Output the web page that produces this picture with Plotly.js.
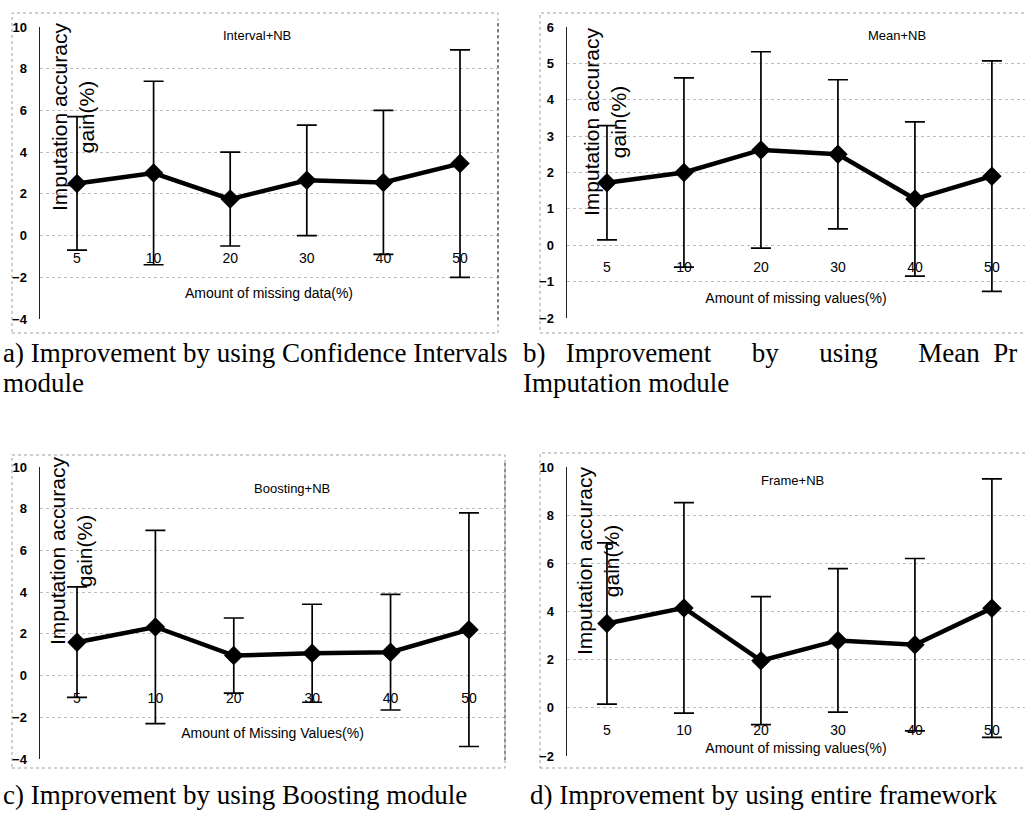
<!DOCTYPE html>
<html><head><meta charset="utf-8">
<script src="https://cdn.plot.ly/plotly-3.0.1.min.js"></script>
<style>html,body{margin:0;padding:0;background:#fff}</style>
</head><body>
<div id="chart" style="width:1025px;height:813px"></div>
<script>
// ---------------- data ----------------
const categories = ['5', '10', '20', '30', '40', '50'];

const intervalGain = [2.5, 3.0, 1.75, 2.65, 2.55, 3.45];
const intervalErr  = [3.2, 4.4, 2.25, 2.65, 3.45, 5.45];

const meanGain = [1.72, 2.0, 2.62, 2.5, 1.27, 1.9];
const meanErr  = [1.57, 2.6, 2.7, 2.05, 2.12, 3.17];

const boostingGain = [1.6, 2.33, 0.96, 1.07, 1.12, 2.2];
const boostingErr  = [2.65, 4.63, 1.8, 2.35, 2.77, 5.6];

const frameGain = [3.5, 4.15, 1.96, 2.8, 2.62, 4.14];
const frameErr  = [3.35, 4.37, 2.66, 2.98, 3.58, 5.37];

const yTicksA = [-4, -2, 0, 2, 4, 6, 8, 10];
const yTicksB = [-2, -1, 0, 1, 2, 3, 4, 5, 6];
const yTicksC = [-4, -2, 0, 2, 4, 6, 8, 10];
const yTicksD = [-2, 0, 2, 4, 6, 8, 10];

const chartTitles = ['Interval+NB', 'Mean+NB', 'Boosting+NB', 'Frame+NB'];
const xTitles = ['Amount of missing data(%)', 'Amount of missing values(%)', 'Amount of Missing Values(%)', 'Amount of missing values(%)'];
const yTitle = 'Imputation accuracy<br>gain(%)';
const nb = k => '\u00a0'.repeat(k);
const captions = [
  ['a) Improvement by using Confidence Intervals', 'module'],
  ['b)' + nb(3) + 'Improvement' + nb(6) + 'by' + nb(6) + 'using' + nb(6) + 'Mean' + nb(2) + 'Pr', 'Imputation module'],
  ['c) Improvement by using Boosting module'],
  ['d) Improvement by using entire framework']
];

// ---------------- geometry (pixels) ----------------
const W = 1025, H = 813;
const fx = p => p / W;
const fy = p => 1 - p / H;

const panels = [
  {gain: intervalGain, err: intervalErr, ticks: yTicksA, xPx: [40, 498], xRange: [-0.483, 5.496], yPx: [319, 27], yRange: [-4, 10],
   title: [257, 36], yTitle: [73, 117], xStand: 23, border: [12, 13, 498, 333]},
  {gain: meanGain, err: meanErr, ticks: yTicksB, xPx: [567, 1025], xRange: [-0.519, 5.43], yPx: [318, 27], yRange: [-2, 6],
   title: [897, 36], yTitle: [605, 122], xStand: 18, border: [540, 13, 1030, 333]},
  {gain: boostingGain, err: boostingErr, ticks: yTicksC, xPx: [40, 505], xRange: [-0.472, 5.46], yPx: [759, 467], yRange: [-4, 10],
   title: [292, 488], yTitle: [71, 551], xStand: 23, border: [12, 455, 505, 768]},
  {gain: frameGain, err: frameErr, ticks: yTicksD, xPx: [567, 1025], xRange: [-0.519, 5.43], yPx: [756, 467], yRange: [-2, 10],
   title: [792, 480], yTitle: [598, 561], xStand: 6, border: [540, 453, 1030, 768]}
];

const sans = 'Liberation Sans, Arial, sans-serif';
const serif = 'Liberation Serif, Times New Roman, serif';

const traces = [];
const layout = {
  width: W, height: H,
  margin: {l: 0, r: 0, t: 0, b: 0},
  paper_bgcolor: '#fff', plot_bgcolor: 'rgba(0,0,0,0)',
  showlegend: false,
  annotations: [], shapes: []
};

panels.forEach((p, i) => {
  const n = i === 0 ? '' : String(i + 1);
  const ydom = [fy(p.yPx[0]), fy(p.yPx[1])];
  const zeroPos = ydom[0] + (0 - p.yRange[0]) / (p.yRange[1] - p.yRange[0]) * (ydom[1] - ydom[0]);

  traces.push({
    type: 'scatter', mode: 'lines+markers',
    x: categories, y: p.gain,
    xaxis: 'x' + n, yaxis: 'y' + n,
    cliponaxis: false,
    line: {color: '#000', width: 4.5},
    marker: {symbol: 'diamond', size: 15, color: '#000'},
    error_y: {type: 'data', array: p.err, visible: true, color: '#000', thickness: 1.7, width: 10}
  });

  layout['xaxis' + n] = {
    domain: [fx(p.xPx[0]), fx(p.xPx[1])],
    range: p.xRange, type: 'category',
    anchor: 'free', position: zeroPos,
    showgrid: false, zeroline: false, showline: false, ticks: '',
    tickfont: {family: sans, size: 14, color: '#000'},
    ticklabelstandoff: 12,
    title: {text: xTitles[i], font: {family: sans, size: 14, color: '#000'}, standoff: p.xStand},
    fixedrange: true
  };
  layout['yaxis' + n] = {
    domain: ydom, range: p.yRange,
    anchor: 'x' + n,
    tickvals: p.ticks,
    showgrid: true, gridcolor: '#bdbdbd', griddash: 'dot', gridwidth: 1,
    zeroline: false, showline: true, linecolor: '#222', linewidth: 1.5, ticks: '',
    tickfont: {family: sans, size: 13, color: '#000', weight: 'bold'},
    ticklabelstandoff: 9,
    fixedrange: true
  };

  layout.annotations.push({
    xref: 'paper', yref: 'paper', x: fx(p.title[0]), y: fy(p.title[1]),
    xanchor: 'center', yanchor: 'middle', showarrow: false,
    text: chartTitles[i], font: {family: sans, size: 13, color: '#000'}
  });
  layout.annotations.push({
    xref: 'paper', yref: 'paper', x: fx(p.yTitle[0]), y: fy(p.yTitle[1]),
    xanchor: 'center', yanchor: 'middle', showarrow: false, textangle: -90,
    text: yTitle, font: {family: sans, size: 21, color: '#000'}
  });

  const b = p.border;
  layout.shapes.push({
    type: 'rect', xref: 'paper', yref: 'paper', layer: 'below',
    x0: fx(b[0]), x1: fx(b[2]), y0: fy(b[3]), y1: fy(b[1]),
    line: {color: '#a0a0a0', width: 1, dash: 'dot'}
  });
});

// right plot-area borders on the left-hand panels
[[498, 23, 322], [505, 463, 762]].forEach(v => {
  layout.shapes.push({
    type: 'line', xref: 'paper', yref: 'paper',
    x0: fx(v[0]), x1: fx(v[0]), y0: fy(v[1]), y1: fy(v[2]),
    line: {color: '#444', width: 1.2, dash: 'dot'}
  });
});

// captions
const capPos = [
  [[1, 353], [1, 383]],
  [[521, 353], [521, 383]],
  [[1, 795]],
  [[528, 795]]
];
captions.forEach((lines, i) => {
  lines.forEach((t, j) => {
    layout.annotations.push({
      xref: 'paper', yref: 'paper', x: fx(capPos[i][j][0]), y: fy(capPos[i][j][1]),
      xanchor: 'left', yanchor: 'middle', showarrow: false,
      text: t, font: {family: serif, size: 27, color: '#000'}
    });
  });
});

Plotly.newPlot('chart', traces, layout, {displayModeBar: false, staticPlot: true});
</script>
</body></html>
